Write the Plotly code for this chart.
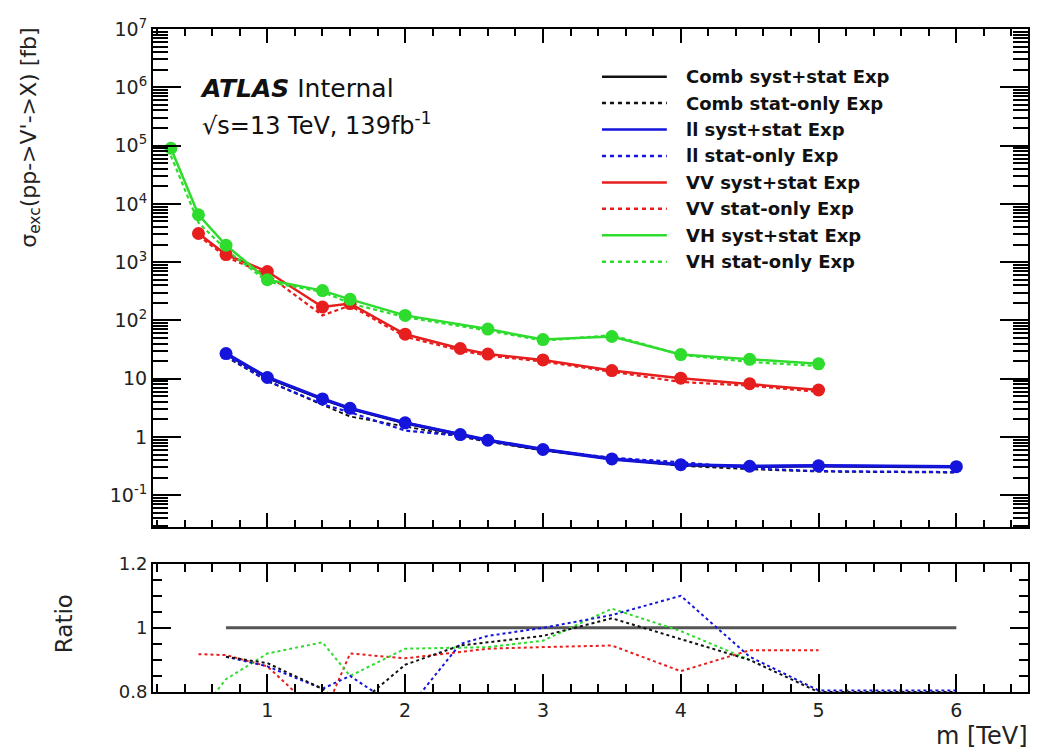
import plotly.graph_objects as go

# ---------------- data ----------------
vh_x = [0.3, 0.5, 0.7, 1.0, 1.4, 1.6, 2.0, 2.6, 3.0, 3.5, 4.0, 4.5, 5.0]
vh_syst = [90000, 6500, 1950, 500, 325, 230, 122, 71, 47, 53, 26, 21.5, 18]
vh_stat = [67000, 4750, 1640, 460, 310, 196, 114, 67, 45, 56, 25.7, 19.4, 16.5]

vv_x = [0.5, 0.7, 1.0, 1.4, 1.6, 2.0, 2.4, 2.6, 3.0, 3.5, 4.0, 4.5, 5.0]
vv_syst = [3100, 1350, 690, 170, 195, 58, 33, 26.5, 21, 13.8, 10.2, 8.2, 6.4]
vv_stat = [2850, 1230, 610, 122, 180, 52.5, 30.5, 24.8, 19.7, 13.0, 8.8, 7.6, 5.95]

ll_x = [0.7, 1.0, 1.4, 1.6, 2.0, 2.4, 2.6, 3.0, 3.5, 4.0, 4.5, 5.0, 6.0]
ll_syst = [27, 10.5, 4.5, 3.1, 1.75, 1.1, 0.88, 0.61, 0.42, 0.335, 0.315, 0.32, 0.31]
ll_stat = [24.6, 9.2, 3.65, 2.65, 1.29, 1.05, 0.86, 0.61, 0.44, 0.37, 0.29, 0.26, 0.25]

comb_x = [0.7, 1.0, 1.4, 1.6, 2.0, 2.4, 2.6, 3.0, 3.5, 4.0, 4.5, 5.0, 6.0]
comb_syst = [26, 10.2, 4.4, 3.05, 1.72, 1.08, 0.87, 0.6, 0.42, 0.33, 0.31, 0.315, 0.305]
comb_stat = [23.7, 9.1, 3.55, 2.25, 1.52, 1.02, 0.83, 0.585, 0.43, 0.32, 0.28, 0.255, 0.245]

# ratio panel (stat-only / syst+stat)
comb_ratio = [0.91, 0.89, 0.81, 0.74, 0.885, 0.945, 0.955, 0.975, 1.03, 0.965, 0.90, 0.80, 0.80]
ll_ratio = [0.91, 0.88, 0.81, 0.85, 0.736, 0.95, 0.975, 1.0, 1.04, 1.10, 0.91, 0.805, 0.805]
vv_ratio = [0.918, 0.915, 0.88, 0.72, 0.92, 0.905, 0.925, 0.935, 0.94, 0.945, 0.865, 0.93, 0.93]
vh_ratio_x = [0.3, 0.5, 0.7, 1.0, 1.4, 1.6, 2.0, 2.6, 3.0, 3.5, 4.0, 4.5]
vh_ratio = [0.75, 0.73, 0.84, 0.92, 0.955, 0.85, 0.935, 0.94, 0.96, 1.06, 0.99, 0.90]
unity_x = [0.7, 6.0]
unity_y = [1.0, 1.0]

y_tickvals = [0.1, 1, 10, 100, 1e3, 1e4, 1e5, 1e6, 1e7]
y_ticktext = ["10<sup>-1</sup>", "1", "10", "10<sup>2</sup>", "10<sup>3</sup>",
              "10<sup>4</sup>", "10<sup>5</sup>", "10<sup>6</sup>", "10<sup>7</sup>"]
x_tickvals = [1, 2, 3, 4, 5, 6]
x_ticktext = ["1", "2", "3", "4", "5", "6"]

legend_names = ["Comb syst+stat Exp", "Comb stat-only Exp", "ll syst+stat Exp",
                "ll stat-only Exp", "VV syst+stat Exp", "VV stat-only Exp",
                "VH syst+stat Exp", "VH stat-only Exp"]

# ---------------- styling ----------------
FONT = "DejaVu Sans, Liberation Sans, Arial, sans-serif"
BLACK = "#111111"
BLUE = "#1414dc"
RED = "#e61e1e"
GREEN = "#2edc2e"
DASH = "4px,3px"
legend_colors = [BLACK, BLACK, BLUE, BLUE, RED, RED, GREEN, GREEN]
legend_dashes = ["solid", "4px,4px"] * 4

# layout geometry (page pixels of the plot frame; the page body adds an 8px offset)
PX_L, PX_R, PX_T, PX_B = 153, 1030, 20, 692


def px_to_paper_x(px):
    return (px - PX_L) / (PX_R - PX_L)


def px_to_paper_y(py):
    return (PX_B - py) / (PX_B - PX_T)


fig = go.Figure()


def line(x, y, color, dash, width=2.2, xa="x", ya="y"):
    fig.add_trace(go.Scatter(x=x, y=y, mode="lines", showlegend=False,
                             line=dict(color=color, width=width, dash=dash),
                             xaxis=xa, yaxis=ya, hoverinfo="skip"))


def markers(x, y, color):
    fig.add_trace(go.Scatter(x=x, y=y, mode="markers", showlegend=False,
                             marker=dict(color=color, size=13, line=dict(width=0)),
                             hoverinfo="skip"))


# main panel
line(ll_x, ll_syst, BLUE, "solid", width=3.5)
line(comb_x, comb_syst, BLACK, "solid", width=1.8)
line(comb_x, comb_stat, BLACK, DASH, width=1.8)
line(ll_x, ll_syst, BLUE, "solid", width=2.5)
line(ll_x, ll_stat, BLUE, DASH)
line(vv_x, vv_syst, RED, "solid", width=2.5)
line(vv_x, vv_stat, RED, DASH)
line(vh_x, vh_syst, GREEN, "solid", width=2.5)
line(vh_x, vh_stat, GREEN, DASH)
markers(ll_x, ll_syst, BLUE)
markers(vv_x, vv_syst, RED)
markers(vh_x, vh_syst, GREEN)

# ratio panel
line(unity_x, unity_y, "#555555", "solid", width=3, xa="x2", ya="y2")
line(vv_x, vv_ratio, RED, "3px,3px", width=2, xa="x2", ya="y2")
line(vh_ratio_x, vh_ratio, GREEN, "3px,3px", width=2, xa="x2", ya="y2")
line(ll_x, ll_ratio, BLUE, "3px,3px", width=2, xa="x2", ya="y2")
line(comb_x, comb_ratio, BLACK, "3px,3px", width=2, xa="x2", ya="y2")

minor_log = [m * 10 ** e for e in range(-2, 7) for m in range(2, 10)]

axis_common = dict(showline=True, linecolor="black", linewidth=2, mirror="allticks",
                   ticks="inside", showgrid=False, zeroline=False, tickcolor="black")

fig.update_layout(
    width=1030, height=748,
    paper_bgcolor="white", plot_bgcolor="white",
    margin=dict(l=145, r=8, t=12, b=64),
    font=dict(family=FONT, size=18, color="#222222"),
    showlegend=False,
    xaxis=dict(**axis_common, domain=[0, 1], anchor="y", range=[0.17, 6.52],
               matches="x2", showticklabels=False, tickvals=x_tickvals,
               ticklen=14, tickwidth=2,
               minor=dict(ticks="inside", dtick=0.2, tick0=0, ticklen=7, tickwidth=1.5,
                          tickcolor="black")),
    yaxis=dict(**axis_common, domain=[px_to_paper_y(525), 1], anchor="x", type="log",
               range=[-1.548, 7], tickvals=y_tickvals, ticktext=y_ticktext,
               ticklen=28, tickwidth=2, tickfont=dict(size=19),
               minor=dict(ticks="inside", tickvals=minor_log, ticklen=15, tickwidth=1.5,
                          tickcolor="black")),
    xaxis2=dict(**axis_common, domain=[0, 1], anchor="y2", range=[0.17, 6.52],
                tickvals=x_tickvals, ticktext=x_ticktext,
                ticklen=18, tickwidth=2, tickfont=dict(size=19),
                minor=dict(ticks="inside", dtick=0.2, tick0=0, ticklen=8, tickwidth=1.5,
                           tickcolor="black")),
    yaxis2=dict(**axis_common, domain=[0, px_to_paper_y(562)], anchor="x2", range=[0.8, 1.2],
                tickvals=[0.8, 1.0, 1.2], ticktext=["0.8", "1", "1.2"],
                ticklen=18, tickwidth=2, tickfont=dict(size=18),
                minor=dict(ticks="inside", dtick=0.05, tick0=0.8, ticklen=9, tickwidth=1.5,
                           tickcolor="black")),
)

# legend (drawn by hand to match ROOT's compact TLegend layout)
shapes = []
annotations = []
row_y0, row_dy = 68.3, 26.8
for i, (name, col, dsh) in enumerate(zip(legend_names, legend_colors, legend_dashes)):
    py = row_y0 + i * row_dy
    shapes.append(dict(type="line", xref="paper", yref="paper",
                       x0=px_to_paper_x(603), x1=px_to_paper_x(668),
                       y0=px_to_paper_y(py), y1=px_to_paper_y(py),
                       line=dict(color=col, width=2.5, dash=dsh)))
    annotations.append(dict(text=name, x=px_to_paper_x(685), y=px_to_paper_y(py),
                            xref="paper", yref="paper", xanchor="left", yanchor="middle",
                            showarrow=False,
                            font=dict(family=FONT, size=18, color="#111111", weight="bold")))

annotations += [
    dict(text="<b><i>ATLAS</i></b> Internal", x=px_to_paper_x(198), y=px_to_paper_y(80),
         xref="paper", yref="paper", xanchor="left", yanchor="middle", showarrow=False,
         font=dict(family=FONT, size=25, color="#111111")),
    dict(text="√s=13 TeV, 139fb<sup>-1</sup>", x=px_to_paper_x(200), y=px_to_paper_y(116),
         xref="paper", yref="paper", xanchor="left", yanchor="middle", showarrow=False,
         font=dict(family=FONT, size=24, color="#111111")),
    dict(text="σ<sub>exc</sub>(pp->V'->X) [fb]", x=px_to_paper_x(30), y=px_to_paper_y(130),
         xref="paper", yref="paper", xanchor="center", yanchor="middle", textangle=-90,
         showarrow=False, font=dict(family=FONT, size=22, color="#222222")),
    dict(text="Ratio", x=px_to_paper_x(64), y=px_to_paper_y(623),
         xref="paper", yref="paper", xanchor="center", yanchor="middle", textangle=-90,
         showarrow=False, font=dict(family=FONT, size=23, color="#222222")),
    dict(text="m [TeV]", x=px_to_paper_x(1032), y=px_to_paper_y(737),
         xref="paper", yref="paper", xanchor="right", yanchor="middle", showarrow=False,
         font=dict(family=FONT, size=24, color="#222222")),
]
fig.update_layout(shapes=shapes, annotations=annotations)

fig.write_html("out.html")
